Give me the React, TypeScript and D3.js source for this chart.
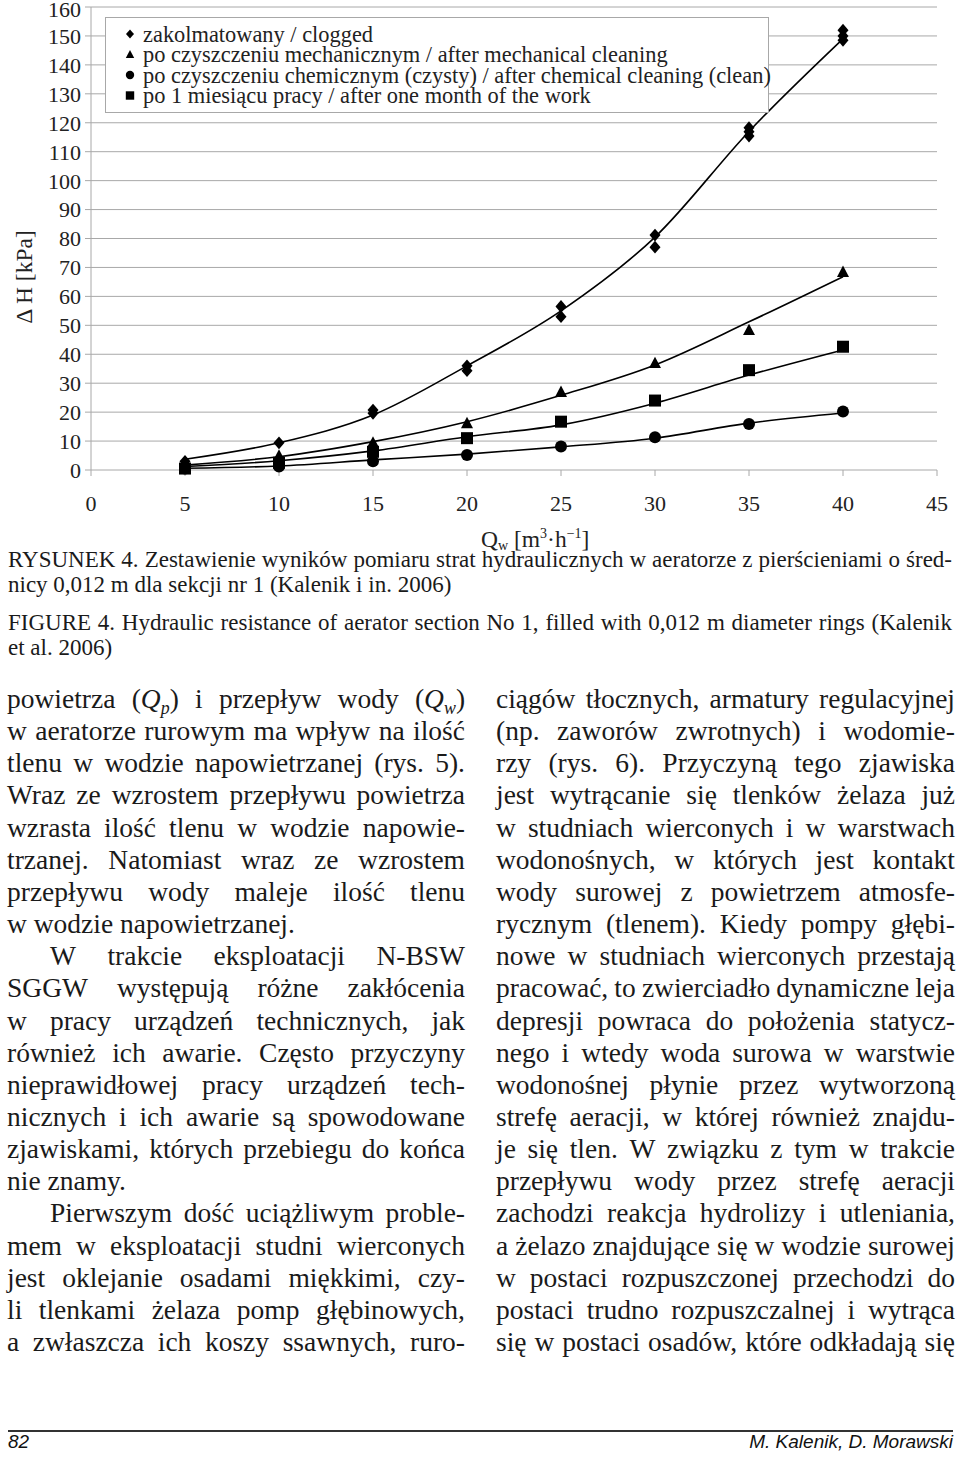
import React from "react";
import * as d3 from "d3";

// flow values for the measurement points
const qClogged = [5, 10, 15, 15, 20, 20, 25, 25, 30, 30, 35, 35, 35, 40, 40, 40];
const dhClogged = [3, 9.4, 20.7, 19.6, 36, 34.3, 56.5, 53, 81.2, 77, 118.3, 116.9, 115.4, 152, 150, 148.5];

const qPoints = [5, 10, 15, 20, 25, 30, 35, 40];
const dhMechanical = [1.5, 5, 9.5, 16.2, 27, 37, 48.4, 68.5];
const dhChemical = [0.5, 1.2, 3, 5.2, 8.1, 11.3, 15.9, 20.2];
const dhMonth = [0.5, 2.5, 6.3, 11, 16.7, 24, 34.5, 42.6];

// trend lines
const trendClogged = [3.7, 9.4, 19, 36, 55, 80.5, 117, 149];
const trendMechanical = [1.7, 4.6, 9.8, 16.7, 25.8, 36.3, 51.2, 66.8];
const trendChemical = [0.6, 1.4, 3.5, 5.5, 8, 11, 16.2, 19.7];
const trendMonth = [1.2, 3.2, 6.6, 11.5, 15.6, 23.1, 32.8, 41.5];

const xTicks = [0, 5, 10, 15, 20, 25, 30, 35, 40, 45];
const yTicks = [0, 10, 20, 30, 40, 50, 60, 70, 80, 90, 100, 110, 120, 130, 140, 150, 160];

const legendLabels = [
  "zakolmatowany / clogged",
  "po czyszczeniu mechanicznym / after mechanical cleaning",
  "po czyszczeniu chemicznym (czysty) / after chemical cleaning (clean)",
  "po 1 miesiącu pracy / after one month of the work",
];

const captionLines = [
  "RYSUNEK 4. Zestawienie wyników pomiaru strat hydraulicznych w aeratorze z pierścieniami o śred-",
  "nicy 0,012 m dla sekcji nr 1 (Kalenik i in. 2006)",
  "FIGURE 4. Hydraulic resistance of aerator section No 1, filled with 0,012 m diameter rings (Kalenik",
  "et al. 2006)",
];
const captionJustify = [true, false, true, false];

const leftLines = [
  "powietrza (Q_p) i przepływ wody (Q_w)",
  "w aeratorze rurowym ma wpływ na ilość",
  "tlenu w wodzie napowietrzanej (rys. 5).",
  "Wraz ze wzrostem przepływu powietrza",
  "wzrasta ilość tlenu w wodzie napowie-",
  "trzanej. Natomiast wraz ze wzrostem",
  "przepływu wody maleje ilość tlenu",
  "w wodzie napowietrzanej.",
  "W trakcie eksploatacji N-BSW",
  "SGGW występują różne zakłócenia",
  "w pracy urządzeń technicznych, jak",
  "również ich awarie. Często przyczyny",
  "nieprawidłowej pracy urządzeń tech-",
  "nicznych i ich awarie są spowodowane",
  "zjawiskami, których przebiegu do końca",
  "nie znamy.",
  "Pierwszym dość uciążliwym proble-",
  "mem w eksploatacji studni wierconych",
  "jest oklejanie osadami miękkimi, czy-",
  "li tlenkami żelaza pomp głębinowych,",
  "a zwłaszcza ich koszy ssawnych, ruro-",
];
const leftLastLines = [7, 15];
const leftIndentLines = [8, 16];

const rightLines = [
  "ciągów tłocznych, armatury regulacyjnej",
  "(np. zaworów zwrotnych) i wodomie-",
  "rzy (rys. 6). Przyczyną tego zjawiska",
  "jest wytrącanie się tlenków żelaza już",
  "w studniach wierconych i w warstwach",
  "wodonośnych, w których jest kontakt",
  "wody surowej z powietrzem atmosfe-",
  "rycznym (tlenem). Kiedy pompy głębi-",
  "nowe w studniach wierconych przestają",
  "pracować, to zwierciadło dynamiczne leja",
  "depresji powraca do położenia statycz-",
  "nego i wtedy woda surowa w warstwie",
  "wodonośnej płynie przez wytworzoną",
  "strefę aeracji, w której również znajdu-",
  "je się tlen. W związku z tym w trakcie",
  "przepływu wody przez strefę aeracji",
  "zachodzi reakcja hydrolizy i utleniania,",
  "a żelazo znajdujące się w wodzie surowej",
  "w postaci rozpuszczonej przechodzi do",
  "postaci trudno rozpuszczalnej i wytrąca",
  "się w postaci osadów, które odkładają się",
];

const SERIF = "'Liberation Serif', 'Times New Roman', serif";

let ctx: CanvasRenderingContext2D | null = null;
const measure = (t: string, size: number, italic = false) => {
  if (!ctx) ctx = document.createElement("canvas").getContext("2d");
  if (!ctx) return t.length * size * 0.45;
  ctx.font = `${italic ? "italic " : ""}${size}px ${SERIF}`;
  return ctx.measureText(t).width;
};

const subRe = /^\(Q_(\w)\)$/;

const wordWidth = (w: string, size: number) => {
  const m = w.match(subRe);
  if (m) {
    return measure("()", size) + measure("Q", size, true) + measure(m[1], size * 0.65, true);
  }
  return measure(w, size);
};

const Word = ({ w, size }: { w: string; size: number }) => {
  const m = w.match(subRe);
  if (!m) return <>{w}</>;
  return (
    <>
      (<tspan fontStyle="italic">Q</tspan>
      <tspan fontStyle="italic" fontSize={size * 0.65} dy={size * 0.2}>
        {m[1]}
      </tspan>
      <tspan dy={-size * 0.2}>)</tspan>
    </>
  );
};

const TextBlock = ({
  lines,
  x0,
  width,
  y0,
  lh,
  size,
  justify,
  indent = [],
}: {
  lines: string[];
  x0: number;
  width: number;
  y0: number | number[];
  lh: number;
  size: number;
  justify: (i: number) => boolean;
  indent?: number[];
}) => (
  <g fontFamily={SERIF} fontSize={size} fill="#1a1a1a">
    {lines.map((line, i) => {
      const y = Array.isArray(y0) ? y0[i] : y0 + i * lh;
      const ind = indent.includes(i) ? 43 : 0;
      const words = line.split(" ");
      const widths = words.map((w) => wordWidth(w, size));
      const space = measure(" ", size);
      const total = d3.sum(widths);
      let gap = space;
      if (justify(i) && words.length > 1) gap = (width - ind - total) / (words.length - 1);
      if (gap < space * 0.6) {
        return (
          <text key={i} x={x0 + ind} y={y} textLength={width - ind} lengthAdjust="spacingAndGlyphs">
            {line}
          </text>
        );
      }
      let x = x0 + ind;
      return (
        <g key={i}>
          {words.map((w, j) => {
            const el = (
              <text key={j} x={x} y={y}>
                <Word w={w} size={size} />
              </text>
            );
            x += widths[j] + gap;
            return el;
          })}
        </g>
      );
    })}
  </g>
);

const Marker = ({ kind, x, y, s }: { kind: string; x: number; y: number; s: number }) => {
  if (kind === "diamond")
    return <path d={`M${x},${y - s * 1.1}L${x + s * 0.95},${y}L${x},${y + s * 1.1}L${x - s * 0.95},${y}Z`} fill="#000" />;
  if (kind === "triangle")
    return <path d={`M${x},${y - s * 1.05}L${x + s},${y + s * 0.85}L${x - s},${y + s * 0.85}Z`} fill="#000" />;
  if (kind === "circle") return <circle cx={x} cy={y} r={s} fill="#000" />;
  return <rect x={x - s} y={y - s} width={s * 2} height={s * 2} fill="#000" />;
};

const App = () => {
  const x = d3.scaleLinear().domain([0, 45]).range([91, 937]);
  const y = d3.scaleLinear().domain([0, 160]).range([470, 7]);
  const line = d3
    .line<number>()
    .x((_, i) => x(qPoints[i]))
    .y((d) => y(d))
    .curve(d3.curveMonotoneX);

  const trends = [trendClogged, trendMechanical, trendChemical, trendMonth];
  const series = [
    { kind: "triangle", vals: dhMechanical },
    { kind: "square", vals: dhMonth },
    { kind: "circle", vals: dhChemical },
  ];
  const legendKinds = ["diamond", "triangle", "circle", "square"];
  const grid = "#a8a8a8";

  return (
    <svg width={960} height={1459} style={{ position: "absolute", left: 0, top: 0, background: "#fff" }}>
      <rect width={960} height={1459} fill="#fff" />
      {/* grid and axes */}
      {yTicks.map((t) => (
        <line key={t} x1={x(0) - 6} x2={x(45)} y1={y(t)} y2={y(t)} stroke={grid} strokeWidth={1} />
      ))}
      <line x1={x(0)} x2={x(0)} y1={y(160)} y2={y(0)} stroke={grid} />
      {xTicks.map((t) => (
        <line key={t} x1={x(t)} x2={x(t)} y1={y(0)} y2={y(0) + 6} stroke={grid} />
      ))}
      <g fontFamily={SERIF} fontSize={22} fill="#222">
        {yTicks.map((t) => (
          <text key={t} x={81} y={Math.max(y(t), 9)} dy="0.36em" textAnchor="end">
            {t}
          </text>
        ))}
        {xTicks.map((t) => (
          <text key={t} x={x(t)} y={511} textAnchor="middle">
            {t}
          </text>
        ))}
      </g>
      <g fontFamily={SERIF} fontSize={23.5} fill="#222">
        <text transform="translate(32,277) rotate(-90)" textAnchor="middle">
          Δ H [kPa]
        </text>
        <text x={481} y={547}>
          Q<tspan fontSize={14} dy={3}>w</tspan>
          <tspan dy={-3}> [m</tspan>
          <tspan fontSize={14} dy={-9}>3</tspan>
          <tspan dy={9}>·h</tspan>
          <tspan fontSize={14} dy={-9}>−1</tspan>
          <tspan dy={9}>]</tspan>
        </text>
      </g>
      {/* trend lines */}
      {trends.map((t, i) => (
        <path key={i} d={line(t) || ""} fill="none" stroke="#000" strokeWidth={1.6} />
      ))}
      {/* points */}
      {qClogged.map((q, i) => (
        <Marker key={"c" + i} kind="diamond" x={x(q)} y={y(dhClogged[i])} s={5.8} />
      ))}
      {series.map((s) =>
        s.vals.map((v, i) => <Marker key={s.kind + i} kind={s.kind} x={x(qPoints[i])} y={y(v)} s={6} />)
      )}
      {/* legend */}
      <rect x={105.5} y={17.5} width={663} height={95} fill="#fff" stroke={grid} />
      <g fontFamily={SERIF} fontSize={22.4} fill="#222">
        {legendLabels.map((l, i) => (
          <g key={l}>
            <Marker kind={legendKinds[i]} x={130} y={34 + i * 20.5} s={4.2} />
            <text x={143} y={41.5 + i * 20.5}>
              {l}
            </text>
          </g>
        ))}
      </g>
      {/* caption */}
      <TextBlock
        lines={captionLines}
        x0={8}
        width={944}
        y0={[567, 592, 630, 655]}
        lh={25}
        size={23}
        justify={(i) => captionJustify[i]}
      />
      {/* body text */}
      <TextBlock
        lines={leftLines}
        x0={7}
        width={458}
        y0={708}
        lh={32.15}
        size={27.5}
        justify={(i) => !leftLastLines.includes(i)}
        indent={leftIndentLines}
      />
      <TextBlock lines={rightLines} x0={496} width={459} y0={708} lh={32.15} size={27.5} justify={() => true} />
      {/* footer */}
      <line x1={8} x2={953} y1={1431} y2={1431} stroke="#333" strokeWidth={2} />
      <g fontFamily="'Liberation Sans Narrow', 'Liberation Sans', sans-serif" fontStyle="italic" fontSize={19} fill="#111">
        <text x={8} y={1448}>
          82
        </text>
        <text x={953} y={1448} textAnchor="end">
          M. Kalenik, D. Morawski
        </text>
      </g>
    </svg>
  );
};

export default App;
